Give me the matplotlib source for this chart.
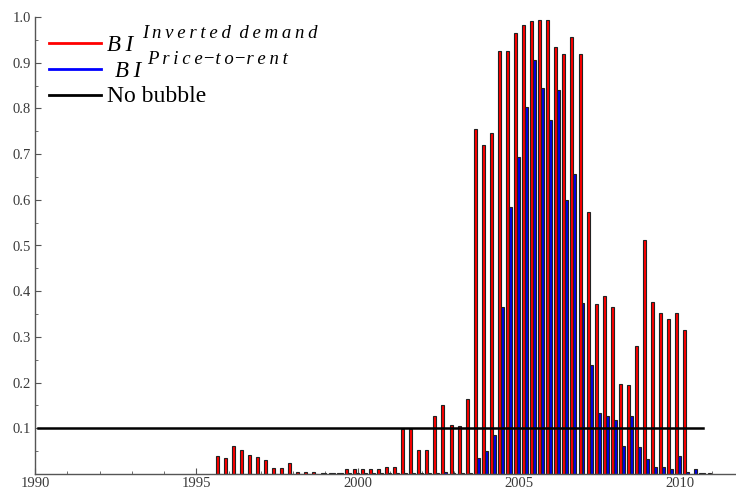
"""Quarterly bubble indicators: inverted-demand vs price-to-rent."""

import matplotlib
matplotlib.use('Agg')
import matplotlib.pyplot as plt
import numpy as np
from matplotlib.lines import Line2D
from matplotlib.ticker import MultipleLocator

# quarterly series, first quarter is 1995 Q4
FIRST_QUARTER = 1995.75
INVERTED_DEMAND = [
    0.039, 0.036, 0.062, 0.053, 0.042, 0.037, 0.031, 0.014, 0.014, 0.025,
    0.005, 0.005, 0.005, 0.003, 0.003, 0.003, 0.011, 0.011, 0.011, 0.011,
    0.011, 0.016, 0.016, 0.098, 0.098, 0.053, 0.053, 0.128, 0.151, 0.108,
    0.104, 0.165, 0.755, 0.720, 0.746, 0.926, 0.926, 0.966, 0.983, 0.992,
    0.994, 0.994, 0.934, 0.920, 0.957, 0.918, 0.574, 0.371, 0.390, 0.365,
    0.198, 0.195, 0.281, 0.512, 0.376, 0.353, 0.339, 0.353, 0.316, 0.0,
    0.002, 0.003,
]
PRICE_TO_RENT = [
    0.0, 0.0, 0.0, 0.0, 0.0, 0.0, 0.0, 0.0, 0.0, 0.0,
    0.0, 0.0, 0.0, 0.002, 0.002, 0.002, 0.002, 0.002, 0.002, 0.003,
    0.003, 0.003, 0.003, 0.003, 0.003, 0.002, 0.002, 0.003, 0.005, 0.003,
    0.003, 0.003, 0.036, 0.051, 0.085, 0.366, 0.585, 0.694, 0.803, 0.906,
    0.845, 0.775, 0.840, 0.600, 0.657, 0.374, 0.239, 0.133, 0.128, 0.119,
    0.061, 0.127, 0.058, 0.033, 0.016, 0.016, 0.010, 0.039, 0.005, 0.010,
    0.002, 0.0,
]
NO_BUBBLE = 0.1
NO_BUBBLE_SPAN = (1990.1, 2010.7)
X_TICKS = [1990, 1995, 2000, 2005, 2010]

W, H = 736, 490
SERIF = 'Liberation Serif'
TICK_COLOR = '#3a3a3a'
AXIS_COLOR = '#555555'
THIN = '\u2009'
MINUS = '\u2212'

fig = plt.figure(figsize=(W / 100, H / 100), dpi=100)
ax = fig.add_axes([35 / W, 16 / H, 701 / W, 457 / H])

quarters = FIRST_QUARTER + 0.25 * np.arange(len(INVERTED_DEMAND))
bar_w = 0.092
ax.bar(quarters - 0.10, INVERTED_DEMAND, width=bar_w, color='#ff0000',
       edgecolor='#222222', linewidth=0.8, zorder=2)
ax.bar(quarters - 0.10 + bar_w, PRICE_TO_RENT, width=bar_w, color='#0000e6',
       edgecolor='#222222', linewidth=0.8, zorder=2)
ax.plot(NO_BUBBLE_SPAN, [NO_BUBBLE, NO_BUBBLE], color='black', linewidth=1.8,
        zorder=3)

ax.set_xlim(1990, 1990 + 701 / 32.25)
ax.set_ylim(0, 1.0)
ax.set_xticks(X_TICKS)
ax.yaxis.set_minor_locator(MultipleLocator(0.05))
ax.set_yticks([v / 10 for v in range(1, 11)])
ax.set_yticklabels([f'{v / 10:.1f}' for v in range(1, 11)])
ax.xaxis.set_minor_locator(MultipleLocator(1))
for spine in ('top', 'right'):
    ax.spines[spine].set_visible(False)
for spine in ('left', 'bottom'):
    ax.spines[spine].set_color(AXIS_COLOR)
    ax.spines[spine].set_linewidth(1.0)
ax.tick_params(axis='both', which='major', direction='in', length=4,
               width=0.8, color=AXIS_COLOR, labelcolor=TICK_COLOR,
               labelsize=10.5, pad=2)
ax.tick_params(axis='both', which='minor', direction='in', length=2,
               width=0.6, color=AXIS_COLOR)
ax.tick_params(axis='y', pad=3)
for label in ax.get_xticklabels() + ax.get_yticklabels():
    label.set_fontfamily(SERIF)


def px(x, y):
    return x / W, 1 - y / H


def spaced(word):
    return THIN.join(word)


# legend drawn by hand: symbol name with a letter-spaced superscript
for y, color in ((43, '#ff0000'), (69, '#0000ff'), (95, 'black')):
    fig.add_artist(Line2D([49 / W, 101 / W], [1 - y / H] * 2, color=color,
                          linewidth=2.0))

sup_red = (' ' + THIN).join(spaced(w) for w in ('Inverted', 'demand'))
sup_blue = MINUS.join(spaced(w) for w in ('Price', 'to', 'rent'))
fig.text(*px(107, 51), spaced('BI') + THIN, family=SERIF, style='italic',
         fontsize=16.5, ha='left', va='baseline')
fig.text(*px(142, 38), sup_red, family=SERIF, style='italic', fontsize=13.5,
         ha='left', va='baseline')
fig.text(*px(115, 77), spaced('BI') + THIN, family=SERIF, style='italic',
         fontsize=16.5, ha='left', va='baseline')
fig.text(*px(147, 64), sup_blue, family=SERIF, style='italic', fontsize=13.5,
         ha='left', va='baseline')
fig.text(*px(107, 102), 'No bubble', family=SERIF, fontsize=17,
         ha='left', va='baseline')

fig.savefig('out.png', dpi=100)
